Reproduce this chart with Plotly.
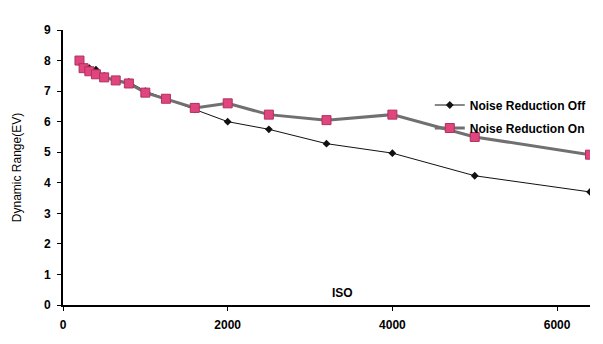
import plotly.graph_objects as go

iso = [200, 250, 320, 400, 500, 640, 800, 1000, 1250, 1600, 2000, 2500, 3200, 4000, 5000, 6400]
nr_off = [7.95, 7.8, 7.75, 7.7, 7.5, 7.35, 7.3, 7.0, 6.75, 6.4, 6.0, 5.75, 5.28, 4.97, 4.23, 3.7]
nr_on = [8.0, 7.75, 7.65, 7.55, 7.45, 7.35, 7.25, 6.95, 6.75, 6.45, 6.6, 6.23, 6.05, 6.23, 5.5, 4.92]

x_ticks = [0, 2000, 4000, 6000]
y_ticks = [0, 1, 2, 3, 4, 5, 6, 7, 8, 9]

fig = go.Figure()
fig.add_trace(go.Scatter(
    x=iso, y=nr_off, mode="lines+markers", name="Noise Reduction Off",
    legendgroup="off",
    line=dict(color="#111111", width=1),
    marker=dict(symbol="diamond", size=6, color="#111111"),
))
fig.add_trace(go.Scatter(
    x=iso, y=nr_on, mode="lines+markers", name="Noise Reduction On",
    legendgroup="on",
    line=dict(color="#707070", width=3),
    marker=dict(symbol="square", size=9, color="#E0457E",
                line=dict(color="#B03060", width=1)),
))

fig.update_layout(
    width=595, height=336,
    margin=dict(l=55, r=13, t=22, b=39, autoexpand=False),
    paper_bgcolor="white", plot_bgcolor="white",
    font=dict(family="Arial, Liberation Sans, sans-serif", size=11, color="black"),
    legend=dict(x=0.696, y=0.78, xanchor="left", yanchor="top",
                bgcolor="rgba(0,0,0,0)",
                font=dict(family="Arial, Liberation Sans, sans-serif", size=12, color="black", weight="bold"),
                tracegroupgap=4, itemwidth=30),
    showlegend=True,
)
fig.update_xaxes(
    range=[0, 6400], tickvals=x_ticks, ticktext=[str(v) for v in x_ticks],
    showline=True, linecolor="black", linewidth=2, showgrid=False, zeroline=False,
    ticks="outside", ticklen=4, tickcolor="black", automargin=False,
    ticklabelstandoff=4,
    tickfont=dict(size=12, weight="bold"),
)
fig.update_yaxes(
    range=[0, 9], tickvals=y_ticks, ticktext=[str(v) for v in y_ticks],
    showline=True, linecolor="black", linewidth=2, showgrid=False, zeroline=False,
    ticks="outside", ticklen=4, tickcolor="black", automargin=False,
    ticklabelstandoff=4,
    tickfont=dict(size=12, weight="bold"),
    title=dict(text="Dynamic Range(EV)", font=dict(size=12), standoff=20),
)
fig.add_annotation(x=3400, y=0, xref="x", yref="y", yanchor="bottom", yshift=3,
                   text="ISO", showarrow=False, font=dict(size=12, weight="bold"))

fig.write_html("out.html")
